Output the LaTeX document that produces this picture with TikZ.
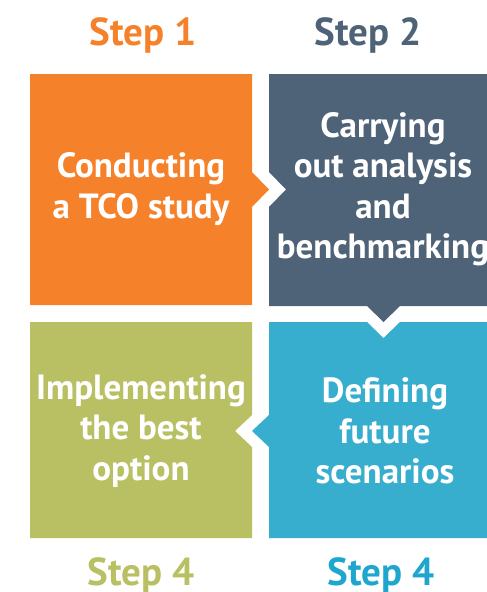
\documentclass[tikz,border=0pt]{standalone}
\usepackage{fontspec}
\setmainfont{PT Sans}
\definecolor{cOrange}{HTML}{F5822A}
\definecolor{cDark}{HTML}{4E6378}
\definecolor{cGreen}{HTML}{B9BF63}
\definecolor{cBlue}{HTML}{37AECE}
\definecolor{tBlue}{HTML}{1EA6CF}
\begin{document}
\begin{tikzpicture}[x=1pt,y=-1pt,
  boxtext/.style={text=white, font=\bfseries\fontsize{35}{40.5}\selectfont, align=center, inner sep=0pt},
  steplabel/.style={font=\bfseries\fontsize{39}{46}\selectfont, anchor=base, inner sep=0pt}]
\useasboundingbox (0,0) rectangle (487,592);
\clip (0,0) rectangle (487,592);
% boxes
\fill[cOrange] (30,74) -- (252,74) -- (252,172) -- (269,189.5) -- (252,207) -- (252,305) -- (30,305) -- cycle;
\fill[cDark] (269,74) -- (497,74) -- (497,306) -- (400,306) -- (383.5,322) -- (367,306) -- (269,306) -- (269,207) -- (286,189.5) -- (269,172) -- cycle;
\fill[cBlue] (269,322) -- (367,322) -- (383.5,338) -- (400,322) -- (497,322) -- (497,538) -- (269,538) -- (269,447) -- (252,431) -- (269,415) -- cycle;
\fill[cGreen] (30,322) -- (252,322) -- (252,415) -- (235,431) -- (252,447) -- (252,538) -- (30,538) -- cycle;
% texts
\node[boxtext] (t1) at (141,189) {Conducting\\a TCO study};
\node[boxtext] (t2) at (383,189) {Carrying\\out analysis\\and\\benchmarking};
\node[boxtext] (t3) at (385,431) {Defining\\future\\scenarios};
\node[boxtext] (t4) at (141,431) {Implementing\\the best\\option};
% step labels
\node[steplabel, text=cOrange] (s1) at (143,45) {Step 1};
\node[steplabel, text=cDark] (s2) at (368,45) {Step 2};
\node[steplabel, text=cGreen] (s4a) at (141,585) {Step 4};
\node[steplabel, text=tBlue] (s4b) at (381,585) {Step 4};
\end{tikzpicture}
\end{document}
